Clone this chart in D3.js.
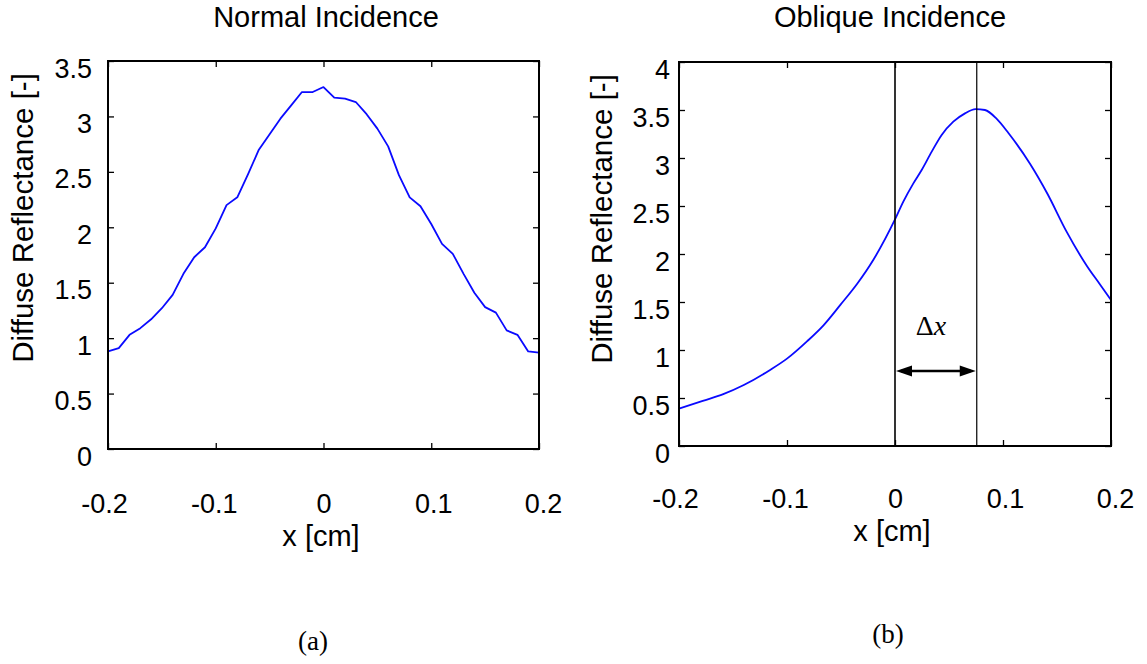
<!DOCTYPE html>
<html>
<head>
<meta charset="utf-8">
<script src="https://cdn.jsdelivr.net/npm/d3@7"></script>
<style>
  html, body { margin: 0; padding: 0; background: #fff; }
  svg { display: block; }
  .sans { font-family: "Liberation Sans", Arial, sans-serif; fill: #000; }
  .serif { font-family: "Liberation Serif", "Times New Roman", serif; fill: #000; }
</style>
</head>
<body>
<svg id="chart" width="1147" height="664"></svg>
<script>
// ---------------- data ----------------
const xTicks = [-0.2, -0.1, 0, 0.1, 0.2];
const normalYTicks = [0, 0.5, 1, 1.5, 2, 2.5, 3, 3.5];
const obliqueYTicks = [0, 0.5, 1, 1.5, 2, 2.5, 3, 3.5, 4];

// (a) Normal incidence
const normalX = [-0.20,-0.19,-0.18,-0.17,-0.16,-0.15,-0.14,-0.13,-0.12,-0.11,-0.10,
                 -0.09,-0.08,-0.07,-0.06,-0.05,-0.04,-0.03,-0.02,-0.01,0.00,
                 0.01,0.02,0.03,0.04,0.05,0.06,0.07,0.08,0.09,0.10,
                 0.11,0.12,0.13,0.14,0.15,0.16,0.17,0.18,0.19,0.20];
const normalY = [0.88,0.91,1.03,1.09,1.17,1.27,1.39,1.58,1.73,1.82,1.99,
                 2.20,2.27,2.48,2.70,2.84,2.98,3.10,3.22,3.22,3.265,
                 3.17,3.16,3.13,3.02,2.89,2.73,2.47,2.27,2.19,2.03,
                 1.85,1.76,1.58,1.41,1.28,1.23,1.07,1.03,0.88,0.87];

// (b) Oblique incidence
const obliqueX = [-0.2,-0.178,-0.159,-0.14,-0.116,-0.1,-0.0815,-0.066,-0.0506,-0.035,-0.02,
                  0.0,0.0077,0.017,0.0247,0.034,0.0432,0.054,0.0648,0.0745,0.0833,0.094,0.105,
                  0.125,0.141,0.159,0.178,0.19,0.2];
const obliqueY = [0.39,0.47,0.54,0.635,0.79,0.91,1.09,1.26,1.47,1.69,1.94,
                  2.36,2.545,2.736,2.875,3.066,3.24,3.378,3.465,3.51,3.50,3.41,3.26,
                  2.94,2.63,2.23,1.87,1.68,1.52];

const markerLines = [0, 0.0757];   // incidence point and peak position (Δx)

// ---------------- drawing ----------------
const svg = d3.select("#chart");

function drawPanel(cfg) {
  const g = svg.append("g");
  const x = d3.scaleLinear().domain([-0.2, 0.2]).range([cfg.x0, cfg.x1]);
  const y = d3.scaleLinear().domain([0, cfg.ymax]).range([cfg.y1, cfg.y0]);

  g.append("g").attr("transform", `translate(0,${cfg.y1})`)
    .call(d3.axisBottom(x).tickValues(xTicks).tickSize(-6).tickFormat(d => String(d)))
    .call(a => {
      a.select(".domain").remove();
      a.selectAll("line").attr("stroke", "#000").attr("stroke-width", 1.3);
      a.selectAll("text").attr("class", "sans").attr("font-size", 27).attr("font-family", null)
        .attr("dy", null).attr("y", cfg.xTickBase - cfg.y1).attr("dx", d => d * cfg.xTickShift);
    });
  g.append("g").attr("transform", `translate(0,${cfg.y0})`)
    .call(d3.axisTop(x).tickValues(xTicks).tickSize(-6).tickFormat(""))
    .call(a => { a.select(".domain").remove(); a.selectAll("line").attr("stroke", "#000").attr("stroke-width", 1.3); });
  g.append("g").attr("transform", `translate(${cfg.x0},0)`)
    .call(d3.axisLeft(y).tickValues(cfg.yTicks).tickSize(-6).tickFormat(d => String(d)))
    .call(a => {
      a.select(".domain").remove();
      a.selectAll("line").attr("stroke", "#000").attr("stroke-width", 1.3);
      a.selectAll("text").attr("class", "sans").attr("font-size", 27).attr("font-family", null)
        .attr("dy", null).attr("y", 16).attr("x", cfg.yTickRight - cfg.x0);
    });
  g.append("g").attr("transform", `translate(${cfg.x1},0)`)
    .call(d3.axisRight(y).tickValues(cfg.yTicks).tickSize(-6).tickFormat(""))
    .call(a => { a.select(".domain").remove(); a.selectAll("line").attr("stroke", "#000").attr("stroke-width", 1.3); });

  const line = d3.line().x(d => x(d[0])).y(d => y(d[1])).curve(cfg.curve);
  g.append("path")
    .datum(cfg.xs.map((v, i) => [v, cfg.ys[i]]))
    .attr("d", line)
    .attr("fill", "none")
    .attr("stroke", "#0a0aff")
    .attr("stroke-width", 1.8)
    .attr("stroke-linejoin", "round");

  g.append("rect")
    .attr("x", cfg.x0).attr("y", cfg.y0)
    .attr("width", cfg.x1 - cfg.x0).attr("height", cfg.y1 - cfg.y0)
    .attr("fill", "none").attr("stroke", "#000").attr("stroke-width", 2);

  g.append("text").attr("class", "sans").attr("font-size", 29)
    .attr("x", cfg.titleX).attr("y", 27).attr("text-anchor", "middle").text(cfg.title);
  g.append("text").attr("class", "sans").attr("font-size", 29)
    .attr("x", cfg.xLabelX).attr("y", cfg.xLabelBase).attr("text-anchor", "middle").text("x [cm]");
  g.append("text").attr("class", "sans").attr("font-size", 29.5)
    .attr("text-anchor", "middle")
    .attr("transform", `translate(${cfg.yLabelX},${cfg.yLabelY}) rotate(-90)`)
    .text("Diffuse Reflectance [-]");
  g.append("text").attr("class", "serif").attr("font-size", 27)
    .attr("x", cfg.letterX).attr("y", cfg.letterBase).attr("text-anchor", "middle").text(cfg.letter);

  return { g, x, y };
}

const left = drawPanel({
  x0: 108, x1: 539, y0: 61, y1: 449, ymax: 3.5, yTicks: normalYTicks,
  xs: normalX, ys: normalY, curve: d3.curveLinear,
  title: "Normal Incidence", titleX: 326,
  xTickBase: 513, xTickShift: 20, yTickRight: 92,
  xLabelX: 321, xLabelBase: 546, yLabelX: 33, yLabelY: 218,
  letter: "(a)", letterX: 313, letterBase: 650
});

const right = drawPanel({
  x0: 679, x1: 1111, y0: 62, y1: 446, ymax: 4, yTicks: obliqueYTicks,
  xs: obliqueX, ys: obliqueY, curve: d3.curveMonotoneX,
  title: "Oblique Incidence", titleX: 890,
  xTickBase: 508, xTickShift: 20, yTickRight: 670,
  xLabelX: 892, xLabelBase: 541, yLabelX: 612, yLabelY: 219,
  letter: "(b)", letterX: 888, letterBase: 643
});

const rx = right.x, ry = right.y;
right.g.selectAll("line.marker").data(markerLines).enter().append("line")
  .attr("class", "marker")
  .attr("x1", d => rx(d)).attr("x2", d => rx(d))
  .attr("y1", ry(0)).attr("y2", ry(4))
  .attr("stroke", "#000").attr("stroke-width", (d, i) => i === 0 ? 1.6 : 1.2);

const ax0 = rx(markerLines[0]), ax1 = rx(markerLines[1]), ay = 371;
right.g.append("line").attr("x1", ax0 + 6).attr("x2", ax1 - 6).attr("y1", ay).attr("y2", ay)
  .attr("stroke", "#000").attr("stroke-width", 2.4);
const head = (tipX, dir) => `M${tipX},${ay} L${tipX + dir * 16},${ay - 5.5} L${tipX + dir * 16},${ay + 5.5} Z`;
right.g.append("path").attr("d", head(ax0 + 1, 1)).attr("fill", "#000");
right.g.append("path").attr("d", head(ax1 - 1, -1)).attr("fill", "#000");

const dl = right.g.append("text").attr("class", "serif").attr("font-size", 28)
  .attr("x", (ax0 + ax1) / 2 - 5).attr("y", 335).attr("text-anchor", "middle");
dl.append("tspan").text("Δ");
dl.append("tspan").attr("font-style", "italic").text("x");
</script>
</body>
</html>
